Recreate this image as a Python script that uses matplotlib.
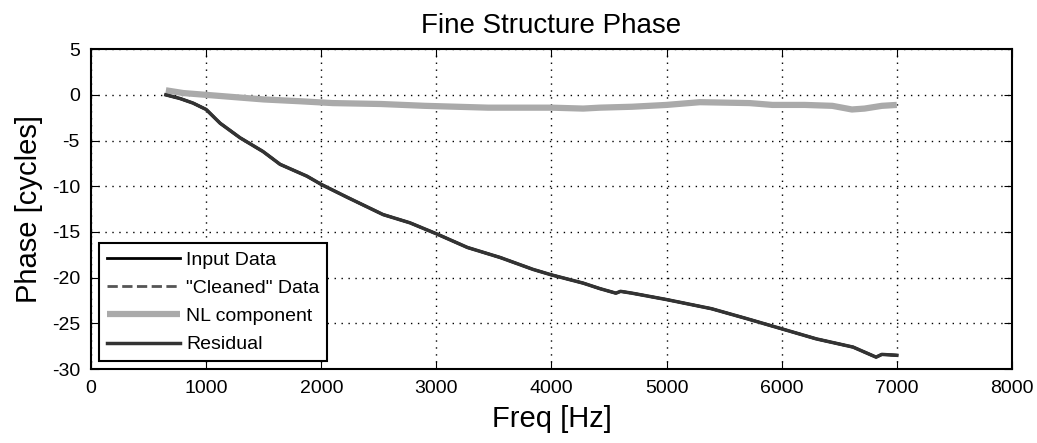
import numpy as np
import matplotlib.pyplot as plt

plt.rcParams['font.family'] = ['Liberation Sans', 'DejaVu Sans']
plt.rcParams['axes.unicode_minus'] = False

# residual phase (cycles) vs frequency (Hz)
f_res = [650, 773, 886, 1000, 1121, 1295, 1494, 1642, 1876, 2000, 2224, 2537,
         2770, 3000, 3270, 3555, 3840, 4000, 4275, 4420, 4560, 4600, 4700,
         5000, 5390, 5700, 6000, 6300, 6620, 6820, 6870, 7000]
p_res = [0.0, -0.4, -0.9, -1.6, -3.1, -4.7, -6.2, -7.6, -8.9, -9.8, -11.2, -13.1,
         -14.0, -15.2, -16.7, -17.8, -19.1, -19.7, -20.6, -21.2, -21.7, -21.5, -21.7,
         -22.4, -23.4, -24.5, -25.6, -26.7, -27.6, -28.7, -28.4, -28.5]

# nonlinear component
f_nl = [650, 800, 1000, 1300, 1500, 1817, 2100, 2520, 2900, 3450, 4000, 4275,
        4420, 4700, 5000, 5290, 5720, 5920, 6200, 6440, 6610, 6720, 6870, 7000]
p_nl = [0.5, 0.2, 0.0, -0.3, -0.5, -0.7, -0.9, -1.0, -1.2, -1.4, -1.4, -1.5,
        -1.4, -1.3, -1.1, -0.8, -0.9, -1.1, -1.1, -1.2, -1.6, -1.5, -1.2, -1.1]

fig = plt.figure(figsize=(10.37, 4.43), dpi=100)
ax = fig.add_axes([0.0878, 0.167, 0.888, 0.722])

# input and cleaned data lie underneath the residual trace
ax.plot(f_res, p_res, color='black', lw=2, label='Input Data')
ax.plot(f_res, p_res, color='#555555', lw=2, ls='--', label='"Cleaned" Data')
ax.plot(f_nl, p_nl, color='#aaaaaa', lw=4.5, solid_capstyle='butt', label='NL component')
ax.plot(f_res, p_res, color='#333333', lw=2.5, label='Residual')

ax.set_xlim(0, 8000)
ax.set_ylim(-30, 5)
ax.set_xticks(np.arange(0, 8001, 1000))
ax.set_yticks(np.arange(-30, 6, 5))
ax.grid(True, color='black', ls=(0, (1, 4)), lw=1)
ax.tick_params(direction='in', top=True, right=True, length=6, labelsize=14, pad=8)
for s in ax.spines.values():
    s.set_linewidth(1.5)

ax.set_title('Fine Structure Phase', fontsize=20, pad=12)
ax.set_xlabel('Freq [Hz]', fontsize=21, labelpad=6)
ax.set_ylabel('Phase [cycles]', fontsize=21, labelpad=6)

leg = ax.legend(loc='lower left', fontsize=14, fancybox=False, framealpha=1,
                edgecolor='black', borderaxespad=0.4, handlelength=3.8,
                labelspacing=0.55, handletextpad=0.3, borderpad=0.4)
leg.get_frame().set_linewidth(1.5)

fig.savefig('out.png', dpi=100)
